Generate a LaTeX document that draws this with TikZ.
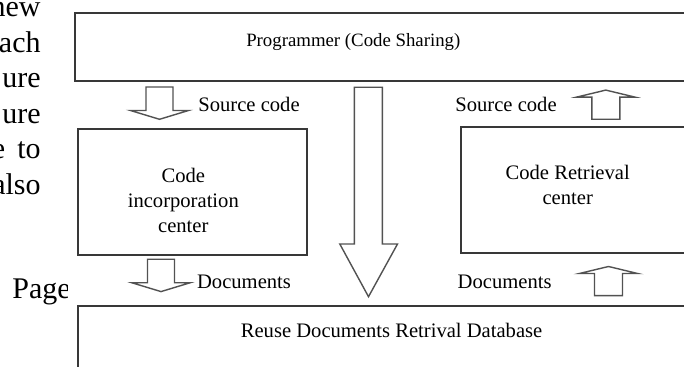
\documentclass[tikz,border=0pt]{standalone}
\usepackage{fontspec}
\setmainfont{Liberation Serif}
\begin{document}
\begin{tikzpicture}[x=0.5pt,y=-0.5pt,
  boxline/.style={draw=black!78, line width=1pt},
  arrline/.style={draw=black!68, line width=0.7pt, line join=miter, fill=white},
  lbl/.style={font=\fontsize{10.3}{12.5}\selectfont, inner sep=0pt, text height=0.68em, text depth=0pt},
  mlbl/.style={font=\fontsize{10.3}{12.5}\selectfont, inner sep=0pt, align=center},
  pagetxt/.style={font=\fontsize{15}{18}\selectfont, inner sep=0pt, anchor=base east},
  downarr/.pic={\path[arrline] (-13.5,0) -- (13.5,0) -- (13.5,23.5) -- (29,23.5) -- (0,32.3) -- (-29,23.5) -- (-13.5,23.5) -- cycle;},
  uparr/.pic={\path[arrline] (-14,0) -- (14,0) -- (14,-22.2) -- (29.1,-22.2) -- (0,-29.2) -- (-29.1,-22.2) -- (-14,-22.2) -- cycle;}
]
\useasboundingbox (0,0) rectangle (684,367);
\clip (0,0) rectangle (684,367);
\fill[white] (0,0) rectangle (684,367);

% surrounding page text (cut off)
\node[pagetxt] (t1) at (41,17) {new};
\node[pagetxt] (t2) at (41,53) {ach};
\node[pagetxt] (t3) at (41,88) {ure};
\node[pagetxt] (t4) at (41,124) {ure};
\node[pagetxt] (t5) at (41,159) {e\hspace{6pt}to};
\node[pagetxt] (t6) at (41,195) {also};
\begin{scope}
  \clip (0,250) rectangle (67,320);
  \node[pagetxt, anchor=base west] (pg) at (12,298.3) {Page};
\end{scope}

% boxes
\draw[boxline] (75.3,13.3) rectangle (720,80.7);
\draw[boxline] (78.3,129.3) rectangle (306.7,255);
\draw[boxline] (460.7,126.7) rectangle (720,252.7);
\draw[boxline] (78.3,305.7) rectangle (720,400);

% box texts
\node[lbl, font=\fontsize{9.4}{11}\selectfont] (prog) at (353.3,39.5) {Programmer (Code Sharing)};
\node[mlbl] (cic) at (183.3,200.8) {Code\\incorporation\\center};
\node[mlbl] (crc) at (567.7,184.6) {Code Retrieval\\center};
\node[lbl, anchor=east] (db) at (542.7,330.7) {Reuse Documents Retrival Database};

% small block arrows
\pic at (159.5,87) {downarr};
\pic at (161,259.3) {downarr};
\pic at (605.8,119.3) {uparr};
\pic at (608.5,295.7) {uparr};

% big block arrow
\path[arrline] (354.4,87.3) -- (382.4,87.3) -- (382.4,244) -- (397.5,244)
  -- (368.5,296.7) -- (339.8,244) -- (354.4,244) -- cycle;

% arrow labels
\node[lbl, anchor=west] (sc1) at (198,105) {Source code};
\node[lbl, anchor=west] (sc2) at (455,105) {Source code};
\node[lbl, anchor=west] (dc1) at (196.7,281.7) {Documents};
\node[lbl, anchor=west] (dc2) at (457.3,281.7) {Documents};
\end{tikzpicture}
\end{document}
